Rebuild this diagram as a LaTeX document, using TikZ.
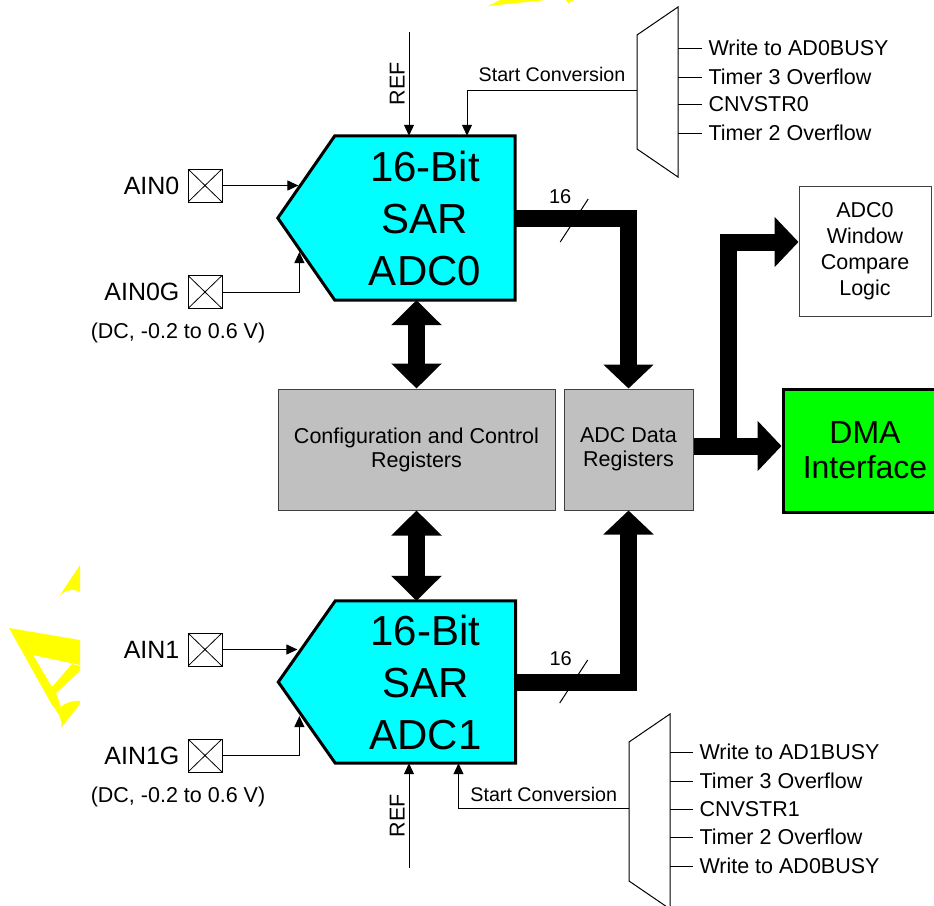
\documentclass[tikz,border=0pt]{standalone}
\usepackage{fontspec}
\setmainfont{Liberation Sans}
\usetikzlibrary{arrows.meta, positioning, calc, backgrounds}
\definecolor{adccyan}{RGB}{0,255,255}
\definecolor{reggray}{RGB}{192,192,192}
\definecolor{dmagreen}{RGB}{0,255,0}
\definecolor{wmyellow}{RGB}{255,255,0}
\tikzset{
  adccore/.style={rectangle, minimum width=180pt, minimum height=164pt, inner sep=0pt, align=center, font=\fontsize{42}{52}\selectfont},
  adcframe/.style={draw=black, line width=3pt, fill=adccyan, line join=miter},
  register/.style={rectangle, draw=black!75, line width=1pt, fill=reggray, minimum height=121pt, inner sep=0pt, align=center, font=\fontsize{21.5}{24}\selectfont},
  wincmpbox/.style={rectangle, draw=black!75, line width=1pt, fill=white, minimum width=132pt, minimum height=130pt, inner sep=0pt, align=center, font=\fontsize{21.5}{26}\selectfont},
  dmabox/.style={rectangle, draw=black, line width=3pt, fill=dmagreen, minimum width=164pt, minimum height=123pt, inner sep=0pt, align=center, font=\fontsize{32}{35}\selectfont},
  pinbox/.style={rectangle, draw=black, line width=0.8pt, minimum width=34pt, minimum height=33pt, inner sep=0pt,
    path picture={\draw[line width=0.8pt] (path picture bounding box.north west) -- (path picture bounding box.south east)
      (path picture bounding box.north east) -- (path picture bounding box.south west);}},
  pinlabel/.style={inner sep=2pt, font=\fontsize{25}{28}\selectfont},
  note/.style={inner sep=0pt, font=\fontsize{21.5}{24}\selectfont},
  muxlabel/.style={anchor=west, inner xsep=6pt, inner ysep=0pt, font=\fontsize{21.5}{24}\selectfont},
  muxframe/.style={draw=black, line width=1pt, line join=miter},
  sig/.style={draw=black, line width=1pt, -{Triangle[width=10pt,length=11pt]}},
  wire/.style={draw=black, line width=1pt},
  sigtext/.style={inner sep=2pt, font=\fontsize{19.7}{22}\selectfont},
  reftext/.style={anchor=south, rotate=90, inner sep=4pt, font=\fontsize{21.5}{24}\selectfont},
  bus/.style={draw=black, line width=17pt, line join=miter, -{Triangle[width=49pt,length=24pt]}},
  dbus/.style={draw=black, line width=17pt, {Triangle[width=49pt,length=25pt]}-{Triangle[width=49pt,length=25pt]}},
  buslabel/.style={inner sep=0pt, font=\fontsize{20}{22}\selectfont},
}

\begin{document}
\begin{tikzpicture}[x=1pt, y=-1pt]
\useasboundingbox (0,0) rectangle (934,905);
\clip (0,0) rectangle (934,905);

% watermark fragments
\fill[wmyellow] (9,628) -- (80,640) -- (80,665) -- (33,655) -- (52,687) -- (72,664) -- (80,666) -- (80,671) -- (56,693)
  -- (61,707) .. controls (65,703) and (73,700) .. (80,701) -- (80,704) -- (61,728) .. controls (63,720) and (58,712) .. (52,705) -- cycle;
\fill[wmyellow] (80,565) -- (60,595) .. controls (66,590) and (74,588) .. (80,592) -- cycle;
\fill[wmyellow] (488,6) -- (546,0) -- (500,0) -- cycle;
\fill[wmyellow] (566,0) -- (574,0) -- (568,3) -- cycle;

% converters and registers
\node[adccore] (adc0) at (425,218) {16-Bit\\SAR\\ADC0};
\node[adccore, minimum height=162pt] (adc1) at (425.5,682) {16-Bit\\SAR\\ADC1};
\node[register, minimum width=277pt] (cfgreg) at (416.5,449.5) {Configuration and Control\\Registers};
\node[register, minimum width=129pt] (datareg) at (628.5,449.5) {ADC Data\\Registers};
\node[wincmpbox] (wincmp) at (865,251) {ADC0\\Window\\Compare\\Logic};
\node[dmabox] (dma) at (865,450.5) {DMA\\Interface};

\begin{scope}[on background layer]
\draw[adcframe] (adc0.north west) -- (adc0.north east) -- (adc0.south east) -- (adc0.south west) -- ($(adc0.west)+(-57,0)$) -- cycle;
\draw[adcframe] (adc1.north west) -- (adc1.north east) -- (adc1.south east) -- (adc1.south west) -- ($(adc1.west)+(-57,0)$) -- cycle;
\end{scope}

% analog inputs
\node[pinbox] (ain0) at (205,185.5) {};
\node[pinbox] (ain0g) at (205,292) {};
\node[pinbox] (ain1) at (205,649.5) {};
\node[pinbox] (ain1g) at (205,755.5) {};
\node[pinlabel, left=6pt of ain0] (ain0lbl) {AIN0};
\node[pinlabel, left=6pt of ain0g] (ain0glbl) {AIN0G};
\node[pinlabel, left=6pt of ain1] (ain1lbl) {AIN1};
\node[pinlabel, left=6pt of ain1g] (ain1glbl) {AIN1G};
\node[note] (ain0gnote) at (178,333) {(DC, -0.2 to 0.6 V)};
\node[note] (ain1gnote) at (178,797) {(DC, -0.2 to 0.6 V)};

\draw[sig] (ain0.east) -- ++(76,0);
\draw[sig] (ain0g.east) -| ++(77,-40);
\draw[sig] (ain1.east) -- ++(75,0);
\draw[sig] (ain1g.east) -| ++(77,-39.5);

% start-of-conversion muxes
\coordinate (mux0in) at (637,90);
\draw[muxframe] (637,35) -- (678,7) -- (678,177) -- (637,149) -- cycle;
\foreach \y/\txt in {48/Write to AD0BUSY, 77/Timer 3 Overflow, 104/CNVSTR0, 133/Timer 2 Overflow}
  \draw[wire] (702,\y) node[muxlabel] (mux0\y) {\txt} (mux0\y.west) -- ++(-24,0);

\coordinate (mux1in) at (629,808);
\draw[muxframe] (629,742) -- (670,714) -- (670,909) -- (629,881) -- cycle;
\foreach \y/\txt in {752/Write to AD1BUSY, 781/Timer 3 Overflow, 809/CNVSTR1, 837/Timer 2 Overflow, 866/Write to AD0BUSY}
  \draw[wire] (693,\y) node[muxlabel] (mux1\y) {\txt} (mux1\y.west) -- ++(-23,0);

\draw[sig] (mux0in) -| ([xshift=42pt]adc0.north) node[pos=0.25, above=6pt, sigtext] {Start Conversion};
\draw[sig] (mux1in) -| ([xshift=33pt]adc1.south) node[pos=0.25, above=4pt, sigtext] {Start Conversion};

% references
\coordinate (ref0) at (409,32);
\coordinate (ref1) at (409,868);
\draw[sig] (ref0) -- (ref0 |- adc0.north) node[pos=0.5, reftext] {REF};
\draw[sig] (ref1) -- (ref1 |- adc1.south) node[pos=0.5, reftext] {REF};

% data buses
\draw[bus] (adc0.east) -| (datareg.north);
\draw[bus] (adc1.east) -| (datareg.south);
\draw[wire] ($(adc0.east)+(45,24)$) -- ++(28,-43);
\draw[wire] ($(adc1.east)+(44,21)$) -- ++(28,-43);
\node[buslabel] (bw0) at ($(adc0.east)+(45,-21)$) {16};
\node[buslabel] (bw1) at ($(adc1.east)+(45,-23)$) {16};

\draw[dbus] (cfgreg.north) -- (cfgreg.north |- adc0.south);
\draw[dbus] (cfgreg.south) -- (cfgreg.south |- adc1.north);

\coordinate (busout) at ([yshift=3.5pt]datareg.east);
\coordinate (tap) at ($(busout)+(34.5,0)$);
\draw[bus] (busout) -- (busout -| dma.west);
\draw[bus] (tap) |- ([yshift=9pt]wincmp.west);
\end{tikzpicture}
\end{document}
